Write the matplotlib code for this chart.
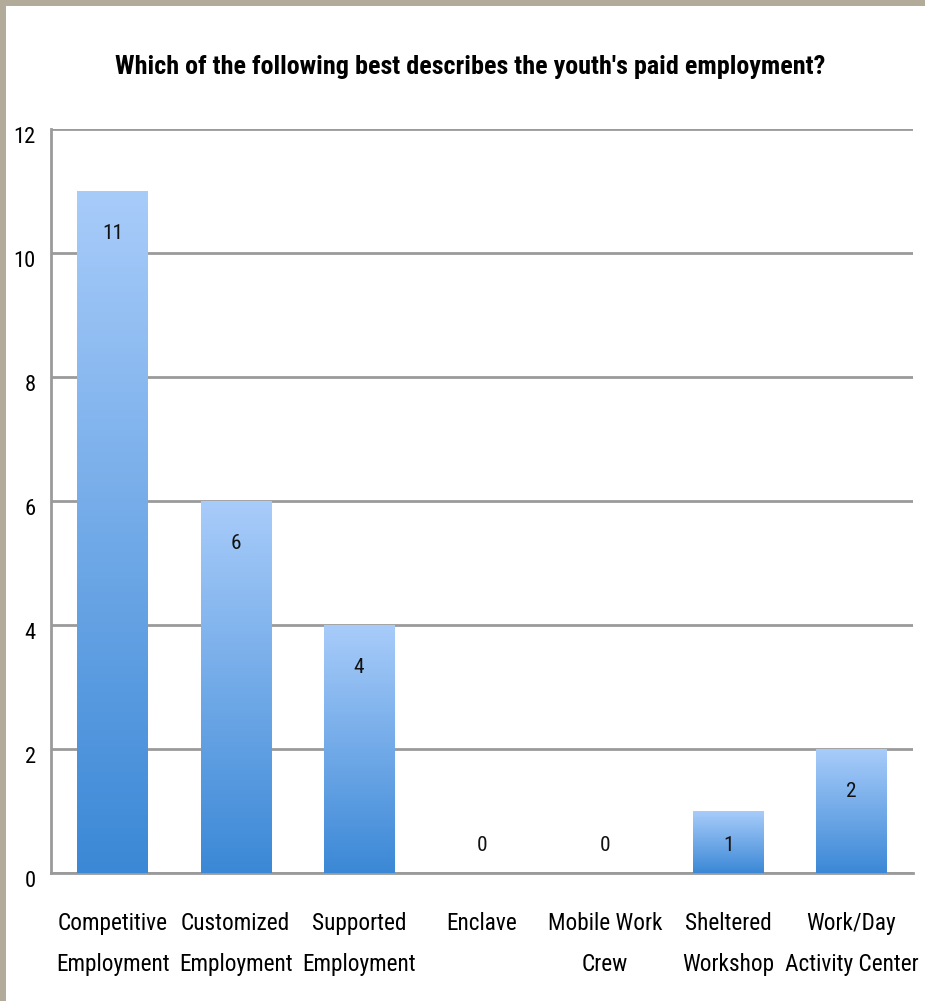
import numpy as np
import matplotlib as mpl
mpl.use('Agg')
import matplotlib.pyplot as plt
from matplotlib import font_manager
from matplotlib.patches import Rectangle
from matplotlib.colors import LinearSegmentedColormap
from matplotlib.transforms import ScaledTranslation

categories = ['Competitive\nEmployment', 'Customized\nEmployment', 'Supported\nEmployment',
              'Enclave', 'Mobile Work\nCrew', 'Sheltered\nWorkshop', 'Work/Day\nActivity Center']
counts = [11, 6, 4, 0, 0, 1, 2]
yticks = [0, 2, 4, 6, 8, 10, 12]
title = "Which of the following best describes the youth's paid employment?"

# pick the narrowest sans family that is installed
fonts = font_manager.fontManager.ttflist
names = {f.name for f in fonts}
stretch = 'normal'
if 'Liberation Sans Narrow' in names:
    family = 'Liberation Sans Narrow'
elif 'Roboto Condensed' in names:
    family = 'Roboto Condensed'
elif any(f.name == 'DejaVu Sans' and 'Condensed' in f.fname for f in fonts):
    family = 'DejaVu Sans'
    stretch = 'condensed'
else:
    family = 'Liberation Sans'
mpl.rcParams['font.family'] = [family, 'DejaVu Sans']
mpl.rcParams['font.stretch'] = stretch

fig = plt.figure(figsize=(9.25, 10.01), dpi=100)
ax = fig.add_axes([51/925, 1 - 873/1001, (913-51)/925, (873-129)/1001])
renderer = fig.canvas.get_renderer()


def fit(t, target_px, extra=1.0):
    # scale the font so the text gets the reference width (times a bit extra,
    # since the original face is narrower than anything installed here)
    w = t.get_window_extent(renderer).width
    t.set_fontsize(t.get_fontsize() * target_px / w * extra)


x = np.arange(len(categories))
bars = ax.bar(x, counts, width=0.57, color='none', zorder=3)

# vertical gradient inside each bar
grad = LinearSegmentedColormap.from_list('g', ['#3b88d6', '#a8ccfa'])
g = np.linspace(0, 1, 256).reshape(-1, 1)
for b, v in zip(bars, counts):
    if v == 0:
        continue
    im = ax.imshow(g, cmap=grad, origin='lower', aspect='auto',
                   extent=[b.get_x(), b.get_x() + b.get_width(), 0, v], zorder=3)
    im.set_clip_path(b)

vlabels = []
for xi, v in zip(x, counts):
    vlabels.append(ax.text(xi, max(v - 0.68, 0.45), str(v), ha='center', va='center',
                           fontsize=15, color='#111111', zorder=5))
fit(vlabels[0], 14, 1.5)
for t in vlabels[1:]:
    t.set_fontsize(vlabels[0].get_fontsize())

ax.set_xlim(-0.5, len(categories) - 0.5)
ax.set_ylim(0, 12)
ax.set_yticks(yticks)
ax.set_yticklabels([str(t) for t in yticks], fontsize=17)
ax.set_xticks(x)
ax.set_xticklabels(categories, fontsize=20)
ax.tick_params(length=0)
ax.tick_params(axis='y', pad=11)
ax.tick_params(axis='x', pad=28)

ylabs = ax.get_yticklabels()
fit(ylabs[-1], 17, 1.3)
for lab in ylabs:
    lab.set_fontsize(ylabs[-1].get_fontsize())
    lab.set_transform(lab.get_transform() + ScaledTranslation(0, -6/100, fig.dpi_scale_trans))

xlabs = ax.get_xticklabels()
fit(xlabs[0], 105, 1.08)
fs = xlabs[0].get_fontsize()
for lab in xlabs:
    lab.set_fontsize(fs)
    lab.set_linespacing(43 / (fs * 100 / 72 * 0.92))

ax.grid(axis='y', color='#9a9a9a', linewidth=2, zorder=1)
for s in ['top', 'right']:
    ax.spines[s].set_visible(False)
for s in ['left', 'bottom']:
    ax.spines[s].set_color('#9a9a9a')
    ax.spines[s].set_linewidth(2)

tt = fig.text(470/925, 1 - 67/1001, title, ha='center', va='center',
              fontsize=24, fontweight='bold')
fit(tt, 684, 1.04)

# beige frame along the top and left edges
fig.patches.append(Rectangle((0, 1 - 6/1001), 1, 6/1001, transform=fig.transFigure,
                             facecolor='#b3ab9a', edgecolor='none'))
fig.patches.append(Rectangle((0, 0), 6/925, 1, transform=fig.transFigure,
                             facecolor='#b3ab9a', edgecolor='none'))

fig.savefig('out.png', dpi=100)
